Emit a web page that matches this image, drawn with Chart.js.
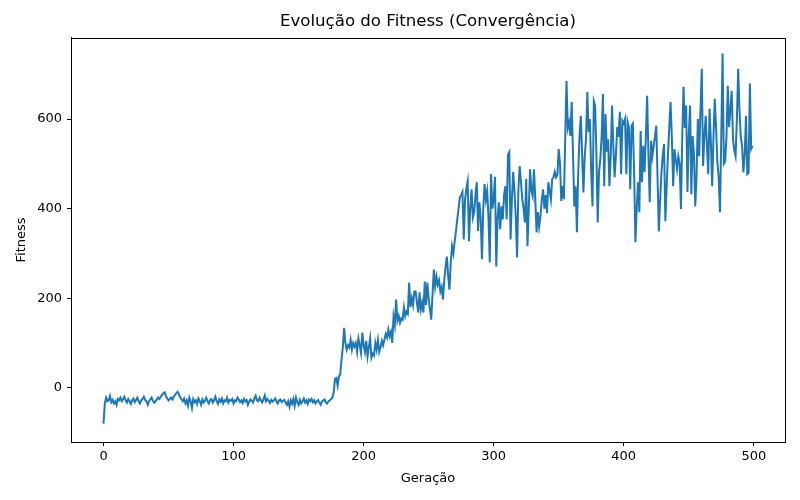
<!DOCTYPE html>
<html>
<head>
<meta charset="utf-8">
<script src="https://cdn.jsdelivr.net/npm/chart.js@4/dist/chart.umd.min.js"></script>
<style>
  html, body { margin: 0; padding: 0; background: #fff; }
  #wrap { width: 800px; height: 500px; }
</style>
</head>
<body>
<div id="wrap"><canvas id="fitnessChart" width="800" height="500"></canvas></div>
<script>
// fitness per generation (gens 0..499)
const fitness = [
  -80, -35, -22, -30, -28, -18, -32, -27, -35, -30, -38, -25, -28, -22, -30, -26, -20, -28, -33, -25,
  -30, -36, -28, -24, -32, -27, -22, -30, -35, -28, -25, -20, -27, -30, -38, -30, -26, -22, -29, -33,
  -30, -26, -22, -25, -20, -16, -12, -10, -18, -24, -28, -25, -22, -26, -20, -16, -12, -9, -14, -22,
  -26, -30, -24, -35, -28, -40, -22, -30, -45, -25, -32, -28, -36, -24, -30, -38, -26, -33, -29, -22,
  -30, -35, -27, -25, -33, -28, -20, -30, -36, -26, -31, -24, -35, -28, -30, -22, -33, -27, -29, -25,
  -35, -28, -30, -22, -26, -32, -28, -34, -25, -30, -27, -38, -31, -26, -29, -33, -24, -18, -28, -30,
  -22, -28, -33, -26, -17, -30, -25, -29, -34, -27, -31, -28, -24, -30, -35, -28, -26, -32, -29, -27,
  -33, -38, -30, -42, -28, -36, -25, -40, -22, -32, -38, -27, -35, -30, -24, -33, -28, -36, -26, -30,
  -25, -32, -28, -35, -30, -27, -33, -38, -31, -28, -26, -33, -35, -30, -28, -25, -22, -10, 20, 22,
  5, 25, 30, 63, 90, 134, 100, 85, 95, 90, 107, 85, 100, 92, 100, 80, 110, 95, 78, 123,
  95, 80, 105, 70, 90, 110, 67, 76, 72, 100, 85, 107, 80, 90, 105, 95, 108, 120, 112, 130,
  115, 125, 100, 159, 140, 197, 150, 160, 145, 155, 152, 179, 160, 170, 165, 235, 180, 200, 185, 215,
  215, 190, 168, 213, 175, 190, 168, 237, 185, 235, 200, 175, 152, 210, 264, 226, 248, 230, 240, 215,
  225, 197, 240, 270, 293, 250, 219, 280, 316, 300, 327, 350, 376, 400, 425, 430, 437, 331, 420, 445,
  461, 327, 400, 443, 380, 392, 430, 459, 350, 414, 380, 287, 400, 455, 420, 439, 380, 280, 477, 400,
  420, 471, 271, 380, 414, 354, 405, 376, 430, 450, 376, 520, 526, 331, 420, 482, 440, 380, 291, 443,
  495, 460, 420, 400, 369, 466, 316, 400, 488, 440, 428, 488, 420, 347, 392, 360, 383, 420, 443, 400,
  430, 390, 459, 440, 420, 466, 470, 482, 470, 475, 533, 500, 417, 450, 421, 555, 685, 580, 593, 562,
  638, 520, 405, 450, 347, 480, 562, 607, 520, 436, 517, 555, 660, 571, 600, 480, 405, 640, 630, 520,
  369, 482, 510, 560, 656, 450, 611, 527, 555, 450, 517, 630, 540, 470, 520, 582, 560, 616, 477, 596,
  590, 600, 477, 593, 580, 443, 585, 590, 480, 325, 400, 459, 392, 573, 459, 540, 481, 560, 652, 520,
  414, 551, 517, 540, 560, 585, 470, 349, 420, 480, 520, 544, 372, 450, 520, 580, 638, 560, 450, 533,
  510, 488, 517, 500, 399, 560, 672, 580, 630, 437, 562, 630, 432, 562, 520, 405, 477, 600, 517, 620,
  712, 495, 560, 607, 540, 477, 623, 550, 450, 560, 645, 580, 504, 470, 392, 560, 746, 500, 505, 560,
  674, 582, 620, 663, 555, 530, 517, 600, 712, 620, 560, 540, 481, 520, 607, 477, 480, 679, 533, 540
];
const generations = fitness.map((_, i) => i);
const xTicks = [0, 100, 200, 300, 400, 500];
const yTicks = [0, 200, 400, 600];

const FONT = "'DejaVu Sans', sans-serif";

// matplotlib-style box around the plot area
const frame = {
  id: "frame",
  afterDraw(chart) {
    const a = chart.chartArea, c = chart.ctx;
    c.save();
    c.strokeStyle = "#000";
    c.lineWidth = 1;
    c.strokeRect(Math.round(a.left) + 0.5, Math.round(a.top) + 0.5,
                 Math.round(a.right - a.left), Math.round(a.bottom - a.top));
    c.restore();
  }
};

new Chart(document.getElementById("fitnessChart"), {
  type: "line",
  data: {
    labels: generations,
    datasets: [{
      data: fitness,
      borderColor: "#1f77b4",
      borderWidth: 2,
      pointRadius: 0,
      tension: 0,
      fill: false
    }]
  },
  options: {
    responsive: false,
    animation: false,
    layout: { padding: { left: 0, right: 15, top: 0, bottom: 0 } },
    plugins: {
      legend: { display: false },
      tooltip: { enabled: false },
      title: {
        display: true,
        fullSize: false,
        text: "Evolução do Fitness (Convergência)",
        color: "#000",
        font: { family: FONT, size: 16.6, weight: "normal" },
        padding: { top: 12, bottom: 6 }
      }
    },
    scales: {
      x: {
        type: "linear",
        min: -25,
        max: 524,
        afterBuildTicks: s => { s.ticks = xTicks.map(v => ({ value: v })); },
        afterFit: s => { s.height = 58; },
        grid: { drawOnChartArea: false, drawTicks: true, tickLength: 4, color: "#000" },
        border: { display: true, color: "#000" },
        ticks: { color: "#000", padding: 3, maxRotation: 0, font: { family: FONT, size: 13 } },
        title: {
          display: true, text: "Geração", color: "#000",
          font: { family: FONT, size: 13 }, padding: { top: 4, bottom: 14 }
        }
      },
      y: {
        min: -121,
        max: 781,
        afterBuildTicks: s => { s.ticks = yTicks.map(v => ({ value: v })); },
        afterFit: s => { s.width = 71; },
        grid: { drawOnChartArea: false, drawTicks: true, tickLength: 4, color: "#000" },
        border: { display: true, color: "#000" },
        ticks: { color: "#000", padding: 5, font: { family: FONT, size: 13 } },
        title: {
          display: true, text: "Fitness", color: "#000",
          font: { family: FONT, size: 13 }, padding: { top: 14, bottom: 4 }
        }
      }
    }
  },
  plugins: [frame]
});
</script>
</body>
</html>
